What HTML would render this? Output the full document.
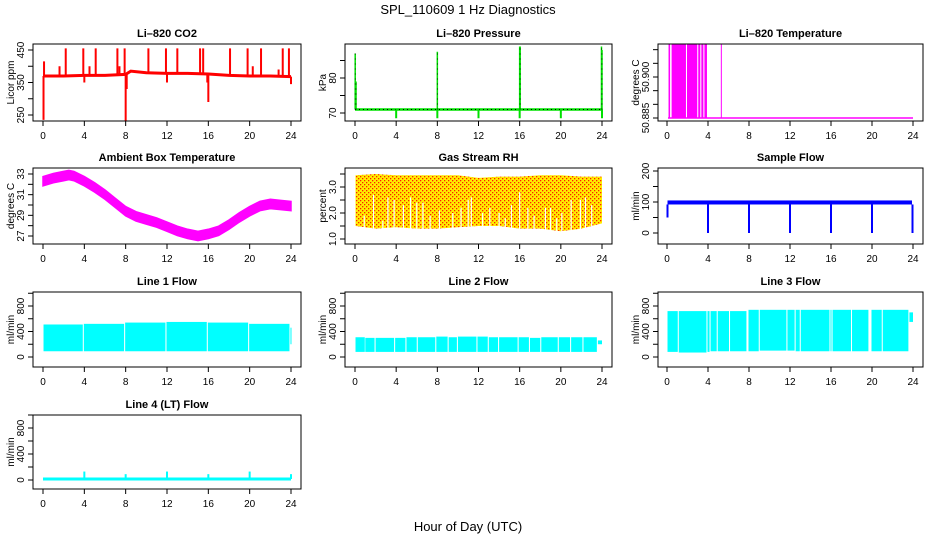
<!DOCTYPE html>
<html><head><meta charset="utf-8"><title>SPL_110609 1 Hz Diagnostics</title>
<style>html,body{margin:0;padding:0;background:#fff}svg{display:block;font-family:"Liberation Sans",sans-serif}</style>
</head><body>
<svg id="chart" width="936" height="540" viewBox="0 0 936 540" xmlns="http://www.w3.org/2000/svg">
<defs>
<pattern id="rhpat" width="4" height="4" patternUnits="userSpaceOnUse">
<rect width="4" height="4" fill="#ffee00"/><rect x="0" y="0" width="1.3" height="1.3" fill="#ff2000"/><rect x="2" y="2" width="1.3" height="1.3" fill="#ff2000"/>
</pattern>
</defs>
<text x="468" y="14" font-size="13" text-anchor="middle">SPL_110609  1 Hz Diagnostics</text>
<text x="468" y="531" font-size="13" text-anchor="middle">Hour of Day (UTC)</text>
</svg>
<script>
// ---------- data ----------
var xTicks = [0,4,8,12,16,20,24];
var co2BaseHours = [0,2,4,6,8,8.5,10,12,14,16,18,20,22,24];
var co2Base = [370,370,372,372,375,385,380,378,378,376,372,370,370,368];
var co2SpikeHours = [0.05,0.1,1.6,2.2,3.9,4.0,4.5,5.1,7.2,7.4,7.9,8.0,8.1,10.2,11.9,12.0,13.0,15.2,15.5,15.9,16.0,18.1,19.8,20.3,21.1,22.8,23.2,23.8,24.0];
var co2SpikeVals = [235,415,400,455,455,350,400,455,455,400,455,220,330,455,455,350,455,455,455,350,290,455,455,400,455,390,455,455,345];
var presBase = 71;
var presSpikeHours = [0.02,0.1,8.0,16.0,16.05,23.95,24.0];
var presSpikeVals = [87,79,87.5,89,89,89,88];
var presDipHours = [4,8,12,16,20,24];
var presDipVals = [68.5,68.5,68.5,68.5,68.5,68.5];
var tempHigh = 50.912, tempLow = 50.885;
var tempBlockStart = [0.15,0.45,1.95,3.05,3.35,3.65];
var tempBlockEnd = [0.3,1.85,2.95,3.25,3.55,3.9];
var tempSpikeHours = [5.3];
var ambHours = [0,1,2,2.5,3,4,5,6,7,8,9,10,11,12,13,14,15,16,17,18,19,20,21,22,23,24];
var ambVals = [32.3,32.6,32.8,32.9,32.8,32.3,31.7,31.0,30.2,29.4,28.9,28.6,28.3,27.9,27.5,27.2,27.0,27.2,27.5,28.1,28.8,29.4,29.9,30.1,30.0,29.9];
var ambHalf = 0.45;
var rhHours = [0.05,2,4,6,8,10,12,14,16,18,20,22,24];
var rhTop = [3.45,3.5,3.45,3.45,3.45,3.45,3.35,3.4,3.4,3.45,3.45,3.4,3.4];
var rhBottom = [1.5,1.4,1.45,1.4,1.4,1.45,1.5,1.5,1.4,1.4,1.3,1.4,1.6];
var rhGapHours = [0.9,1.8,2.7,3.2,3.8,4.7,5.4,6.0,6.6,7.3,8.2,9.5,10.3,11.0,11.3,12.4,13.1,14.0,14.6,15.2,16.0,16.8,17.4,18.5,19.0,19.6,20.1,21.0,21.9,22.4,23.0];
var rhGapTops = [1.9,2.7,1.7,2.6,2.5,2.3,2.6,2.4,2.4,1.9,2.1,2.0,2.2,2.5,2.6,2.0,2.2,2.0,1.8,2.3,2.8,2.2,1.9,2.2,2.2,1.8,2.0,2.5,2.5,2.6,2.3];
var sfStart = 0.05, sfEnd = 23.9, sfLow = 92, sfHigh = 105;
var sfDipHours = [0.05,4,8,12,16,20,23.95];
var sfDipVals = [50,0,0,0,0,0,0];
var l1Start = [0.05,3.95,7.95,11.95,15.95,19.95,23.95];
var l1End = [3.85,7.85,11.85,15.85,19.85,23.85,24.0];
var l1Top = [510,520,540,550,540,520,460];
var l1Bottom = [90,90,90,90,90,90,200];
var l2Start = [0.05,1.0,2.0,3.9,5.0,6.1,7.9,9.1,10.0,11.9,13.0,14.0,15.9,17.0,18.1,19.8,21.0,22.2,23.6];
var l2End = [0.95,1.9,3.8,4.9,6.0,7.8,9.0,9.9,11.8,12.9,13.9,15.8,16.9,18.0,19.7,20.9,22.1,23.5,24.0];
var l2Top = [310,300,300,300,310,310,320,310,320,320,310,310,310,300,310,310,310,310,260];
var l2Bottom = [80,80,80,80,80,80,80,80,80,80,80,80,80,80,80,80,80,80,200];
var l3Start = [0.05,1.15,3.95,4.25,4.95,6.15,7.95,9.05,11.75,12.55,13.05,15.95,16.15,18.05,19.95,21.05,23.65];
var l3End = [1.05,3.85,4.15,4.85,6.05,7.75,8.95,11.65,12.45,12.95,15.85,16.05,17.95,19.65,20.95,23.55,24.0];
var l3Top = [720,720,720,720,720,720,740,740,740,740,740,740,740,740,740,740,700];
var l3Bottom = [80,70,80,90,90,90,90,100,100,90,90,90,90,90,90,90,550];
var l4Base = 15;
var l4SpikeHours = [4,8,12,16,20,24];
var l4SpikeVals = [130,90,130,90,130,90];

// ---------- layout ----------
var NS = "http://www.w3.org/2000/svg";
var svg = document.getElementById('chart');
var colL = [33,345,658], colR = [301,612,923], colX0 = [43,355,667], colX24 = [291,602,913];
var rowT = [44,168,292,415], rowB = [121,244,367,489];
var clipN = 0;
function mk(tag, attrs, parent){ var e=document.createElementNS(NS,tag); for(var k in attrs) e.setAttribute(k,attrs[k]); (parent||svg).appendChild(e); return e; }

function panel(col,row,title,ylab,v1,p1,v2,p2,yticks,ylabels,name){
  var L=colL[col],R=colR[col],T=rowT[row],B=rowB[row];
  var g=mk('g',{});
  
  
  var X=function(h){return colX0[col]+(colX24[col]-colX0[col])*h/24;};
  var Y=function(v){return p1+(v-v1)*(p2-p1)/(v2-v1);};
  var id='clip'+(clipN++);
  var cp=mk('clipPath',{id:id},g); mk('rect',{x:L,y:T,width:R-L,height:B-T},cp);
  var data=mk('g',{'clip-path':'url(#'+id+')'},g);
  
  
  var t=mk('text',{x:(L+R)/2,y:T-7,'font-size':11,'font-weight':'bold','text-anchor':'middle'},g); t.textContent=title;
  
  
  var box=mk('rect',{x:L,y:T,width:R-L,height:B-T,fill:'none',stroke:'#000','stroke-width':1},g);
  
  
  var xa=mk('g',{},g);
  
  
  xTicks.forEach(function(h){
    mk('line',{x1:X(h),x2:X(h),y1:B,y2:B+5,stroke:'#000'},xa);
    var tx=mk('text',{x:X(h),y:B+18,'font-size':10,'text-anchor':'middle'},xa); tx.textContent=h;
  });
  var ya=mk('g',{},g);
  
  
  yticks.forEach(function(v){ mk('line',{x1:L,x2:L-5,y1:Y(v),y2:Y(v),stroke:'#000'},ya); });
  ylabels.forEach(function(lb){
    var y=Y(parseFloat(lb));
    var tx=mk('text',{x:0,y:0,'font-size':10,'text-anchor':'middle',transform:'translate('+(L-9)+','+y+') rotate(-90)'},ya); tx.textContent=lb;
  });
  var yt=mk('text',{x:0,y:0,'font-size':10,'text-anchor':'middle',transform:'translate('+(L-19)+','+((T+B)/2)+') rotate(-90)'},g); yt.textContent=ylab;
  
  
  return {X:X,Y:Y,g:data};
}
function vline(p,h,a,b,color,w){ return mk('line',{x1:p.X(h),x2:p.X(h),y1:p.Y(a),y2:p.Y(b),stroke:color,'stroke-width':w||1.5},p.g); }
function hline(p,h1,h2,v,color,w){ return mk('line',{x1:p.X(h1),x2:p.X(h2),y1:p.Y(v),y2:p.Y(v),stroke:color,'stroke-width':w||2},p.g); }
function blocks(p,st,en,top,bot,color){
  for(var i=0;i<st.length;i++){
    var r=mk('rect',{x:p.X(st[i]),y:p.Y(top[i]),width:Math.max(1,p.X(en[i])-p.X(st[i])),height:p.Y(bot[i])-p.Y(top[i]),fill:color},p.g);
    
    
  }
}

// CO2
var p=panel(0,0,'Li\u2013820 CO2','Licor ppm',250,115,450,50,[250,300,350,400,450],['250','350','450'],'co2');
var pts=co2BaseHours.map(function(h,i){return p.X(h)+','+p.Y(co2Base[i]);}).join(' ');
var pl=mk('polyline',{points:pts,fill:'none',stroke:'#ff0000','stroke-width':3},p.g);


function baseAt(h){for(var i=1;i<co2BaseHours.length;i++){if(h<=co2BaseHours[i]){var a=co2BaseHours[i-1],b=co2BaseHours[i];return co2Base[i-1]+(co2Base[i]-co2Base[i-1])*(h-a)/(b-a);}}return co2Base[co2Base.length-1];}
co2SpikeHours.forEach(function(h,i){ var l=vline(p,h,baseAt(h),co2SpikeVals[i],'#ff0000',2);
    });

// Pressure
p=panel(1,0,'Li\u2013820 Pressure','kPa',70,113,80,78,[70,75,80,85],['70','80'],'pressure');
hline(p,0,24,presBase,'#00e000',2.5);
var dl=hline(p,0,24,presBase,'#000',1); dl.setAttribute('stroke-dasharray','1 3');
presSpikeHours.forEach(function(h,i){ var l=vline(p,h,presBase,presSpikeVals[i],'#00e000',1.5);
   
  var d=vline(p,h,presBase,presSpikeVals[i],'#000',0.8); d.setAttribute('stroke-dasharray','1 4'); });
presDipHours.forEach(function(h,i){ var l=vline(p,h,presBase,presDipVals[i],'#00e000',2);
    });

// Temperature
p=panel(2,0,'Li\u2013820 Temperature','degrees C',50.885,118,50.900,77,[50.885,50.89,50.895,50.9,50.905,50.91],['50.885','50.900'],'li820-temp');
hline(p,0.1,24,tempLow,'#ff00ff',1.5);
for(var i=0;i<tempBlockStart.length;i++){
  var r=mk('rect',{x:p.X(tempBlockStart[i]),y:p.Y(tempHigh),width:p.X(tempBlockEnd[i])-p.X(tempBlockStart[i]),height:p.Y(tempLow)-p.Y(tempHigh),fill:'#ff00ff'},p.g);
   
}
tempSpikeHours.forEach(function(h){ vline(p,h,tempLow,tempHigh,'#ff00ff',1); });

// Ambient
p=panel(0,1,'Ambient Box Temperature','degrees C',27,236,33,174,[27,28,29,30,31,32,33],['27','29','31','33'],'ambient-temp');
var up=ambHours.map(function(h,i){return p.X(h)+','+p.Y(ambVals[i]+ambHalf);});
var dn=ambHours.map(function(h,i){return p.X(h)+','+p.Y(ambVals[i]-ambHalf);}).reverse();
var pg=mk('polygon',{points:up.concat(dn).join(' '),fill:'#ff00ff',stroke:'#ff00ff','stroke-width':1.5},p.g);
 

// Gas RH
p=panel(1,1,'Gas Stream RH','percent',1.0,239,3.0,187,[1,1.5,2,2.5,3,3.5],['1.0','2.0','3.0'],'rh');
up=rhHours.map(function(h,i){return p.X(h)+','+p.Y(rhTop[i]);});
dn=rhHours.map(function(h,i){return p.X(h)+','+p.Y(rhBottom[i]);}).reverse();
pg=mk('polygon',{points:up.concat(dn).join(' '),fill:'url(#rhpat)'},p.g);
 
rhGapHours.forEach(function(h,i){ vline(p,h,1.0,rhGapTops[i],'#fff',1.2); });

// Sample flow
p=panel(2,1,'Sample Flow','ml/min',0,233,100,202,[0,50,100,150,200],['0','100','200'],'sample-flow');
var sr=mk('rect',{x:p.X(sfStart),y:p.Y(sfHigh),width:p.X(sfEnd)-p.X(sfStart),height:p.Y(sfLow)-p.Y(sfHigh),fill:'#0000ff'},p.g);
 
sfDipHours.forEach(function(h,i){ var l=vline(p,h,sfLow,sfDipVals[i],'#0000ff',2);
    });

// Line flows
var lt=[0,200,400,600,800,1000], ll=['0','400','800'];
p=panel(0,2,'Line 1 Flow','ml/min',0,357,800,306,lt,ll,'line1-flow');
blocks(p,l1Start,l1End,l1Top,l1Bottom,'#00ffff');
p=panel(1,2,'Line 2 Flow','ml/min',0,357,800,306,lt,ll,'line2-flow');
blocks(p,l2Start,l2End,l2Top,l2Bottom,'#00ffff');
p=panel(2,2,'Line 3 Flow','ml/min',0,357,800,306,lt,ll,'line3-flow');
blocks(p,l3Start,l3End,l3Top,l3Bottom,'#00ffff');
p=panel(0,3,'Line 4 (LT) Flow','ml/min',0,480,800,428,lt,ll,'line4-flow');
hline(p,0,24,l4Base,'#00ffff',3);
l4SpikeHours.forEach(function(h,i){ var l=vline(p,h,l4Base,l4SpikeVals[i],'#00ffff',2);
    });
</script>
</body></html>
